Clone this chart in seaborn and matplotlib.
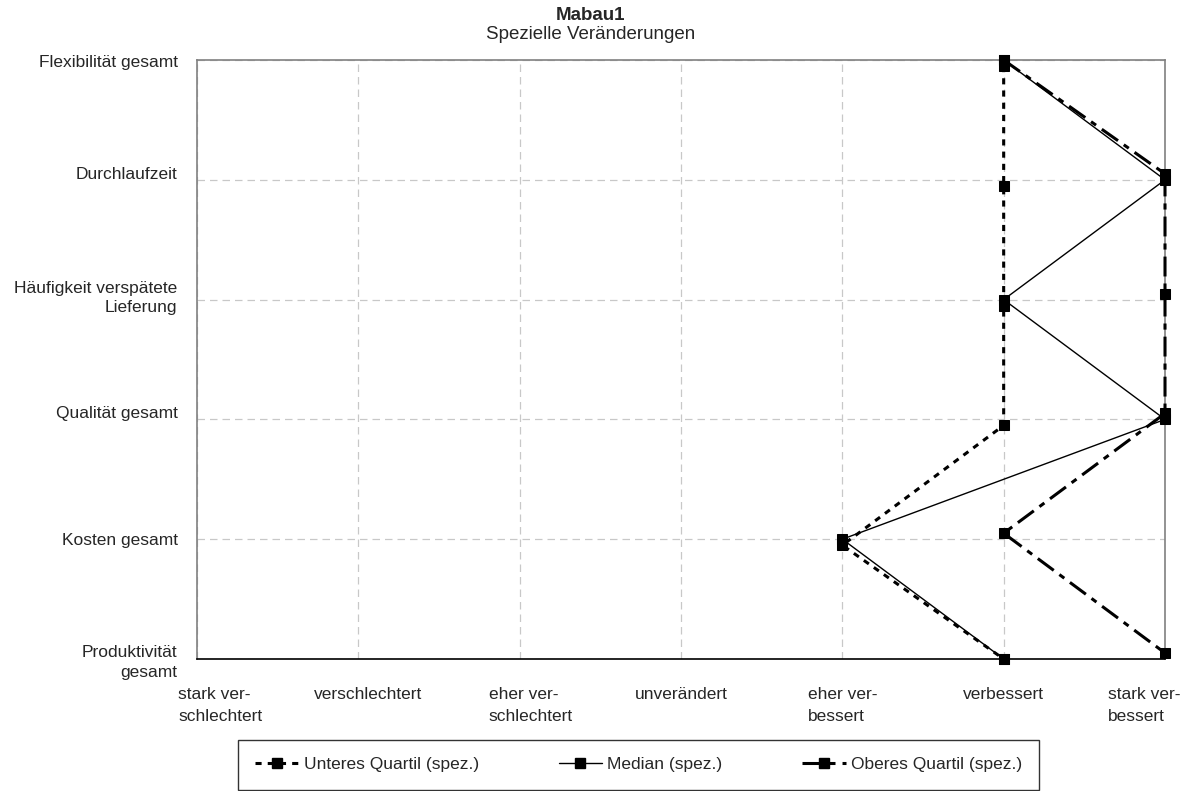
import numpy as np
import pandas as pd
import seaborn as sns
import matplotlib.pyplot as plt
import matplotlib.transforms as mtransforms
from matplotlib.lines import Line2D

# rating scale (x) and criteria (y, listed top to bottom)
scale_labels = ['stark ver-\nschlechtert', 'verschlechtert', 'eher ver-\nschlechtert', 'unverändert',
                'eher ver-\nbessert', 'verbessert', 'stark ver-\nbessert']
criteria = ['Flexibilität gesamt', 'Durchlaufzeit', 'Häufigkeit verspätete\nLieferung',
            'Qualität gesamt', 'Kosten gesamt', 'Produktivität\ngesamt']

lower_q = [6, 6, 6, 6, 5, 6]
median = [6, 7, 6, 7, 5, 6]
upper_q = [6, 7, 7, 7, 6, 7]

series_names = ['Unteres Quartil (spez.)', 'Median (spez.)', 'Oberes Quartil (spez.)']

sns.set_style('white')
plt.rcParams['font.family'] = ['Liberation Sans', 'DejaVu Sans']
fs = 12.5

fig = plt.figure(figsize=(11.9, 7.91), dpi=100)
ax = fig.add_axes([0.1655, 0.1669, 0.8135, 0.7572])

ypos = np.arange(len(criteria), 0, -1)  # top item = 6, bottom = 1

styles = {
    series_names[0]: dict(lw=2.2, dashes=(2, 2), yoff=-0.05),
    series_names[1]: dict(lw=1.0, dashes=None, yoff=0.0),
    series_names[2]: dict(lw=2.2, dashes=(6.5, 2.3, 2, 2.3), yoff=0.05),
}

handles = []
for name, vals in zip(series_names, [lower_q, median, upper_q]):
    st = styles[name]
    df = pd.DataFrame({'rating': vals, 'item': np.clip(ypos + st['yoff'], 1, 6)})
    sns.lineplot(data=df, x='rating', y='item', estimator=None, sort=False, ax=ax,
                 color='black', lw=st['lw'], marker='s', markersize=7,
                 markeredgecolor='black', clip_on=False, legend=False, zorder=3)
    line = ax.lines[-1]
    if st['dashes'] is not None:
        line.set_dashes(st['dashes'])
    h = Line2D([], [], color='black', lw=st['lw'], marker='s', markersize=7)
    if st['dashes'] is not None:
        h.set_dashes(st['dashes'])
    handles.append(h)

ax.set_xlim(1, 7)
ax.set_ylim(1, 6)
ax.set_xticks(range(1, 8))
ax.set_xticklabels(scale_labels, fontsize=fs, multialignment='left', linespacing=1.6)
ax.set_yticks(ypos)
ax.set_yticklabels(criteria, fontsize=fs, ha='right', multialignment='right', linespacing=1.35)
ax.tick_params(axis='x', which='major', direction='out', length=5, width=1, color='black', pad=15)
ax.tick_params(axis='y', length=0, pad=14)
ax.set_xlabel('')
ax.set_ylabel('')

# nudge a few labels the way the original chart places them (in points)
x_shift = [17, 7, 8, 0, 0, 0, -15]
for lab, dx in zip(ax.get_xticklabels(), x_shift):
    lab.set_transform(lab.get_transform() + mtransforms.ScaledTranslation(dx / 72, 0, fig.dpi_scale_trans))
y_shift = [-1, 5, 4, 5, 0, 0]
for lab, dy in zip(ax.get_yticklabels(), y_shift):
    lab.set_transform(lab.get_transform() + mtransforms.ScaledTranslation(0, dy / 72, fig.dpi_scale_trans))

ax.grid(True, color='#c8c8c8', linestyle=(0, (6, 4)), lw=0.9)
ax.set_axisbelow(True)
for side in ['left', 'top', 'right']:
    ax.spines[side].set_color('#808080')
    ax.spines[side].set_linewidth(1.2)
ax.spines['bottom'].set_color('black')
ax.spines['bottom'].set_linewidth(1.2)

fig.text(0.496, 0.981, 'Mabau1', ha='center', va='center', fontsize=13.5, fontweight='bold')
fig.text(0.496, 0.956, 'Spezielle Veränderungen', ha='center', va='center', fontsize=13.5)

leg = fig.legend(handles, series_names, loc='upper center', bbox_to_anchor=(0.5366, 0.0645),
                 ncol=3, fontsize=fs, frameon=True, fancybox=False, edgecolor='black',
                 handlelength=2.5, handletextpad=0.3, columnspacing=4.6, borderpad=1.0,
                 borderaxespad=0)
leg.get_frame().set_linewidth(1.0)

fig.savefig('out.png', dpi=100)
